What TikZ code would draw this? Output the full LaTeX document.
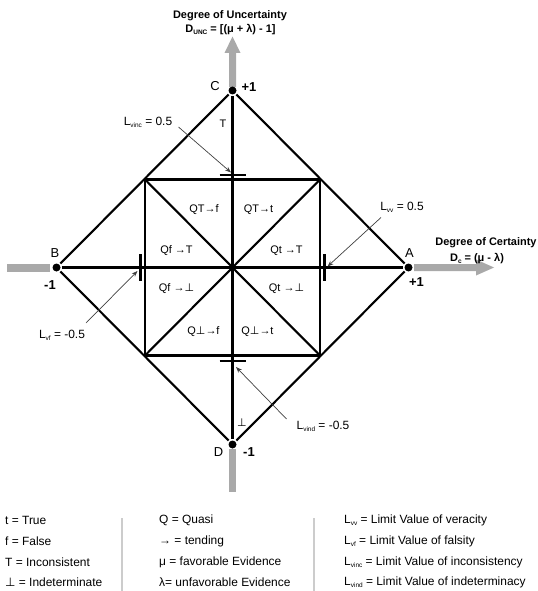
\documentclass[tikz,border=0pt]{standalone}
\usepackage{fontspec}
\setmainfont{Liberation Sans}
\newfontfamily\dvs{DejaVu Sans}
\usetikzlibrary{arrows.meta}
\definecolor{arrgray}{HTML}{A9A9A9}
\definecolor{sepgray}{HTML}{CCCCCC}
\definecolor{notegray}{HTML}{404040}
\newcommand\perpsym{{\dvs ⊥}}
\newcommand\lsub[1]{\raisebox{-0.35ex}{\fontsize{6.5}{7}\selectfont #1}}
\begin{document}
\begin{tikzpicture}[x=1bp,y=-1bp,
  mainline/.style={line width=2.1bp, black},
  dot/.style={circle, fill=black, inner sep=0pt, minimum size=8bp, outer sep=1.6bp},
  tickbar/.style={line width=2.8bp, black},
  note/.style={draw=notegray, line width=0.7bp, -{Stealth[length=6bp,width=4.5bp]}},
  region/.style={font=\fontsize{11}{13}\selectfont, inner sep=0pt},
  vlabel/.style={font=\fontsize{13}{15}\selectfont, inner sep=0pt},
  vnum/.style={font=\bfseries\fontsize{13}{15}\selectfont, inner sep=0pt},
  title/.style={font=\bfseries\fontsize{11}{13}\selectfont, inner sep=0pt},
  limit/.style={font=\fontsize{12}{14}\selectfont, inner sep=0pt},
  legend/.style={font=\fontsize{12}{14}\selectfont, inner sep=0pt, anchor=west},
  sep/.style={draw=sepgray, line width=2bp}
]
\useasboundingbox (0,0) rectangle (538,591);

% gray axis arrows and stubs
\fill[arrgray] (229,87) -- (229,53) -- (224.5,53) -- (232.5,36.5) -- (240.5,53) -- (236,53) -- (236,87) -- cycle;
\fill[arrgray] (414,264) -- (476,264) -- (476,259.5) -- (494,267.5) -- (476,275.5) -- (476,271) -- (414,271) -- cycle;
\fill[arrgray] (7,264) rectangle (50,271.5);
\fill[arrgray] (229,449) rectangle (236,492);

% vertices
\node[dot] (C) at (232.5,90.5) {};
\node[dot] (A) at (408.5,267.5) {};
\node[dot] (D) at (232.5,444.5) {};
\node[dot] (B) at (56.5,267.5) {};
\coordinate (O) at (232.5,267.5);
\coordinate (q1) at (145,179.5);
\coordinate (q2) at (320,179.5);
\coordinate (q3) at (320,355.5);
\coordinate (q4) at (145,355.5);

% lines
\draw[mainline] (C) -- (A);
\draw[mainline] (A) -- (D);
\draw[mainline] (D) -- (B);
\draw[mainline] (B) -- (C);
\draw[mainline] (C) -- (D);
\draw[mainline] (B) -- (A);
\draw[mainline] (q1) -- (q2) -- (q3) -- (q4) -- cycle;
\draw[mainline] (q1) -- (q3);
\draw[mainline] (q2) -- (q4);

% limit bars
\draw[tickbar] (219.5,175) -- (245.5,175);
\draw[tickbar] (219.5,361) -- (245.5,361);
\draw[tickbar] (140.5,254) -- (140.5,281);
\draw[tickbar] (324.5,254) -- (324.5,281);

% vertex labels
\node[vlabel] (lC) at (215,86) {C};
\node[vnum] (nC) at (249,87) {+1};
\node[vlabel] (lB) at (55,253) {B};
\node[vnum] (nB) at (50,285) {-1};
\node[vlabel] (lA) at (409.5,253) {A};
\node[vnum] (nA) at (416.5,282) {+1};
\node[vlabel] (lD) at (218.5,452) {D};
\node[vnum] (nD) at (249,452) {-1};
\node[region] (lT) at (223,123.5) {T};
\node[region] (lP) at (242,422.5) {\perpsym};

% region labels
\node[region] (r1) at (204,209.5) {QT→f};
\node[region] (r2) at (258.5,209.5) {QT→t};
\node[region] (r3) at (176.5,251) {Qf →T};
\node[region] (r4) at (286.5,251) {Qt →T};
\node[region] (r5) at (176.5,289) {Qf →\perpsym};
\node[region] (r6) at (286.5,289) {Qt →\perpsym};
\node[region] (r7) at (203.5,331.5) {Q\perpsym→f};
\node[region] (r8) at (257.5,331.5) {Q\perpsym→t};

% titles
\node[title] (tU) at (230,15.5) {Degree of Uncertainty};
\node[title] (fU) at (230.5,30) {D\lsub{UNC} = [(μ + λ) - 1]};
\node[title] (tC) at (486,242.6) {Degree of Certainty};
\node[title] (fC) at (477,258.7) {D\lsub{c} = (μ - λ)};

% limit labels and arrows
\node[limit] (Lvinc) at (148,122) {L\lsub{vinc} = 0.5};
\node[limit] (Lvv) at (402,207) {L\lsub{vv} = 0.5};
\node[limit] (Lvf) at (62,335) {L\lsub{vf} = -0.5};
\node[limit] (Lvind) at (323,426) {L\lsub{vind} = -0.5};
\coordinate (vincS) at (178.5,127);
\coordinate (vincE) at (231,172.5);
\coordinate (vvS) at (381,217.5);
\coordinate (vvE) at (327.5,266.5);
\coordinate (vfS) at (86,323);
\coordinate (vfE) at (137.5,271);
\coordinate (vindS) at (286.5,419);
\coordinate (vindE) at (236,367);
\draw[note] (vincS) -- (vincE);
\draw[note] (vvS) -- (vvE);
\draw[note] (vfS) -- (vfE);
\draw[note] (vindS) -- (vindE);

% legend
\draw[sep] (121.8,518) -- (121.8,591);
\draw[sep] (314,518) -- (314,591);
\node[legend] (g11) at (5,520) {t = True};
\node[legend] (g12) at (5,541.5) {f = False};
\node[legend] (g13) at (5,562) {T = Inconsistent};
\node[legend] (g14) at (5,582.5) {\perpsym\ = Indeterminate};
\node[legend] (g21) at (159,520) {Q = Quasi};
\node[legend] (g22) at (159,541.5) {→ = tending};
\node[legend] (g23) at (159,562) {μ = favorable Evidence};
\node[legend] (g24) at (159,582.5) {λ= unfavorable Evidence};
\node[legend] (g31) at (344,520) {L\lsub{vv} = Limit Value of veracity};
\node[legend] (g32) at (344,541.5) {L\lsub{vf} = Limit Value of falsity};
\node[legend] (g33) at (344,562) {L\lsub{vinc} = Limit Value of inconsistency};
\node[legend] (g34) at (344,582.5) {L\lsub{vind} = Limit Value of indeterminacy};
\end{tikzpicture}
\end{document}
